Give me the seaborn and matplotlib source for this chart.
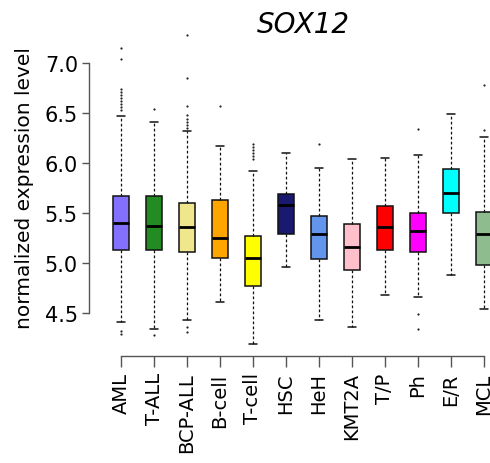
import numpy as np
import pandas as pd
import matplotlib
matplotlib.use('Agg')
import matplotlib.pyplot as plt
import seaborn as sns

# box statistics (normalized expression level)
groups = ['AML', 'T-ALL', 'BCP-ALL', 'B-cell', 'T-cell', 'HSC',
          'HeH', 'KMT2A', 'T/P', 'Ph', 'E/R', 'MCL']
whisker_low = [4.41, 4.34, 4.43, 4.61, 4.19, 4.96, 4.43, 4.36, 4.68, 4.66, 4.88, 4.54]
q1 = [5.13, 5.13, 5.11, 5.05, 4.77, 5.29, 5.04, 4.93, 5.13, 5.11, 5.50, 4.98]
medians = [5.40, 5.37, 5.36, 5.25, 5.05, 5.58, 5.29, 5.16, 5.36, 5.32, 5.70, 5.29]
q3 = [5.67, 5.67, 5.60, 5.63, 5.27, 5.69, 5.47, 5.39, 5.57, 5.50, 5.94, 5.51]
whisker_high = [6.47, 6.41, 6.32, 6.17, 5.92, 6.10, 5.95, 6.04, 6.05, 6.08, 6.49, 6.26]

# outliers
flier_groups = (['AML'] * 12 + ['T-ALL'] * 2 + ['BCP-ALL'] * 10 + ['B-cell']
                + ['T-cell'] * 6 + ['HeH'] + ['Ph'] * 3 + ['MCL'] * 2)
flier_values = [7.15, 7.04, 6.74, 6.71, 6.68, 6.65, 6.62, 6.59, 6.56, 6.53, 4.32, 4.29,
                6.54, 4.28,
                7.28, 6.85, 6.57, 6.48, 6.44, 6.41, 6.38, 6.35, 4.36, 4.31,
                6.57,
                6.19, 6.16, 6.13, 6.10, 6.07, 6.04,
                6.19,
                6.34, 4.49, 4.34,
                6.78, 6.33]

colors = ['#8470FF', '#228B22', '#F0E68C', '#FFA500', '#FFFF00', '#191970',
          '#6495ED', '#FFC0CB', '#FF0000', '#FF00FF', '#00FFFF', '#8FBC8F']
palette = dict(zip(groups, colors))

# five-number rows per group -> seaborn computes exactly these quartiles
rows = []
for g, a, b, c, d, e in zip(groups, whisker_low, q1, medians, q3, whisker_high):
    for v in (a, b, c, d, e):
        rows.append((g, v))
df = pd.DataFrame(rows, columns=['group', 'value'])
df_fl = pd.DataFrame({'group': flier_groups, 'value': flier_values})

sns.set_style('ticks')
plt.rcParams['font.family'] = ['DejaVu Sans']
plt.rcParams['text.color'] = 'black'
plt.rcParams['axes.labelcolor'] = 'black'
plt.rcParams['xtick.labelcolor'] = 'black'
plt.rcParams['ytick.labelcolor'] = 'black'

fig = plt.figure(figsize=(4.9, 4.64), dpi=100)
ax = fig.add_axes([89 / 490, (464 - 356.7) / 464, 1 - 89 / 490, (356.7 - 20) / 464])

sns.boxplot(data=df, x='group', y='value', hue='group', order=groups,
            palette=palette, saturation=1, legend=False, width=0.48, whis=(0, 100),
            showfliers=False, linecolor='#111111', linewidth=1.1,
            whiskerprops={'linestyle': (0, (2.2, 1.8)), 'linewidth': 0.9},
            medianprops={'linewidth': 2.0, 'color': 'black'},
            capprops={'linewidth': 1.1}, ax=ax)
sns.stripplot(data=df_fl, x='group', y='value', order=groups, jitter=False,
              color='#222222', size=1.6, ax=ax)

ax.set_xlim(-32 / 33, 369 / 33)
ax.set_ylim(4.07, 7.437)
ax.set_yticks([4.5, 5.0, 5.5, 6.0, 6.5, 7.0])
ax.set_yticklabels(['4.5', '5.0', '5.5', '6.0', '6.5', '7.0'])
ax.spines['top'].set_visible(False)
ax.spines['right'].set_visible(False)
ax.spines['left'].set_bounds(4.5, 7.0)
ax.spines['bottom'].set_bounds(0, 11)
for s in ('left', 'bottom'):
    ax.spines[s].set_color('#555555')
    ax.spines[s].set_linewidth(1.0)
ax.tick_params(axis='y', length=5, width=1.0, color='#555555', labelsize=15, pad=3)
ax.tick_params(axis='x', length=8, width=1.0, color='#555555', labelsize=14,
               labelrotation=90, pad=4)
ax.set_xlabel('')
ax.set_ylabel('normalized expression level', fontsize=14.5, labelpad=8)
ax.patch.set_alpha(0)

fig.text(303 / 490, 1 - 25 / 464, 'SOX12', fontsize=20, style='italic',
         ha='center', va='center')

fig.savefig('out.png', dpi=100)
